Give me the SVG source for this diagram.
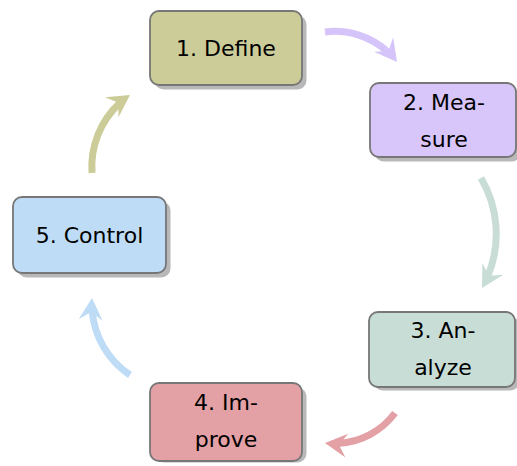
<svg xmlns="http://www.w3.org/2000/svg" width="517" height="466" viewBox="0 0 517 466">
<defs>
<style>
.box{stroke:#777;stroke-width:1.8}
.sh{fill:#b8b8b8}
.t{font-family:"DejaVu Sans",sans-serif;font-size:22px;fill:#000;text-anchor:middle}
.arc{fill:none;stroke-width:7}
</style>
<marker id="m1" markerUnits="userSpaceOnUse" orient="auto" viewBox="-25 -15 30 30" markerWidth="30" markerHeight="30" refX="0" refY="0"><path d="M0,0 L-22,-12 L-14,0 L-22,12 Z" fill="#d5c4fa"/></marker>
<marker id="m2" markerUnits="userSpaceOnUse" orient="auto" viewBox="-25 -15 30 30" markerWidth="30" markerHeight="30" refX="0" refY="0"><path d="M0,0 L-22,-12 L-14,0 L-22,12 Z" fill="#c8ddd6"/></marker>
<marker id="m3" markerUnits="userSpaceOnUse" orient="auto" viewBox="-25 -15 30 30" markerWidth="30" markerHeight="30" refX="0" refY="0"><path d="M0,0 L-22,-12 L-14,0 L-22,12 Z" fill="#e3a0a5"/></marker>
<marker id="m4" markerUnits="userSpaceOnUse" orient="auto" viewBox="-25 -15 30 30" markerWidth="30" markerHeight="30" refX="0" refY="0"><path d="M0,0 L-22,-12 L-14,0 L-22,12 Z" fill="#bfdcf6"/></marker>
<marker id="m5" markerUnits="userSpaceOnUse" orient="auto" viewBox="-25 -15 30 30" markerWidth="30" markerHeight="30" refX="0" refY="0"><path d="M0,0 L-22,-12 L-14,0 L-22,12 Z" fill="#cccc99"/></marker>
</defs>
<rect width="517" height="466" fill="#fff"/>
<g id="connectors">
<path class="arc" stroke="#d5c4fa" marker-end="url(#m1)" stroke-dasharray="68.7 1000" d="M325,32 A78,78 0 0 1 397,62"/>
<path class="arc" stroke="#c8ddd6" marker-end="url(#m2)" stroke-dasharray="102 1000" d="M481,178 A110,110 0 0 1 482,288"/>
<path class="arc" stroke="#e3a0a5" marker-end="url(#m3)" stroke-dasharray="66.6 1000" d="M395,413 A76,76 0 0 1 325,443"/>
<path class="arc" stroke="#bfdcf6" marker-end="url(#m4)" stroke-dasharray="77 1000" d="M130,375 A85.9,85.9 0 0 1 92,298"/>
<path class="arc" stroke="#cccc99" marker-end="url(#m5)" stroke-dasharray="78 1000" d="M92,173 A86.8,86.8 0 0 1 130,95"/>
</g>
<g id="n1">
<rect class="sh" x="154.5" y="15.5" width="152" height="74" rx="9"/>
<rect class="box" fill="#cccc99" x="150" y="11" width="152" height="74" rx="9"/>
<text class="t" x="226" y="56">1. Define</text>
</g>
<g id="n2">
<rect class="sh" x="374.5" y="87.5" width="146" height="74" rx="9"/>
<rect class="box" fill="#d8c6fb" x="370" y="83" width="146" height="74" rx="9"/>
<text class="t" x="444" y="110">2. Mea-</text>
<text class="t" x="444" y="147">sure</text>
</g>
<g id="n3">
<rect class="sh" x="373.5" y="316.5" width="146" height="74" rx="9"/>
<rect class="box" fill="#c8ddd6" x="369" y="312" width="146" height="75" rx="9"/>
<text class="t" x="443" y="338">3. An-</text>
<text class="t" x="443" y="375">alyze</text>
</g>
<g id="n4">
<rect class="sh" x="154.5" y="387.5" width="152" height="75" rx="9"/>
<rect class="box" fill="#e3a0a5" x="150" y="383" width="152" height="78" rx="9"/>
<text class="t" x="226" y="410">4. Im-</text>
<text class="t" x="226" y="447">prove</text>
</g>
<g id="n5">
<rect class="sh" x="17.5" y="201.5" width="153" height="76" rx="9"/>
<rect class="box" fill="#bfdcf6" x="13" y="197" width="153" height="76" rx="9"/>
<text class="t" x="89.5" y="243">5. Control</text>
</g>
</svg>
